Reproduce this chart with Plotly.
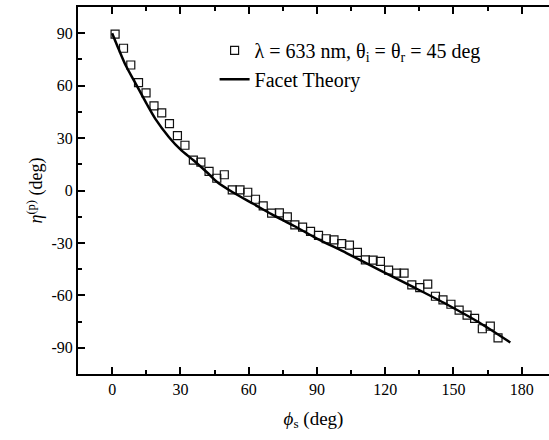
import plotly.graph_objects as go

# Measured data (phi_s in deg, eta^(p) in deg)
phi_meas = [1.3, 5.0, 8.2, 11.6, 14.9, 18.4, 21.8, 25.2, 28.7, 32.0,
            35.7, 39.0, 42.6, 46.0, 49.3, 52.8, 56.2, 59.6, 63.0, 66.4,
            70.1, 73.5, 77.0, 80.3, 83.7, 87.2, 90.7, 94.1, 97.5, 100.9,
            104.3, 107.8, 111.3, 114.7, 117.9, 121.5, 125.0, 128.3, 131.7, 135.2,
            138.7, 142.1, 145.4, 148.9, 152.5, 156.0, 159.3, 162.7, 166.2, 169.6]
eta_meas = [89.5, 81.4, 71.8, 61.7, 55.9, 48.4, 44.4, 38.3, 31.4, 25.9,
            17.4, 16.2, 11.0, 7.0, 9.0, 0.4, 0.4, -1.0, -5.0, -8.8,
            -13.0, -12.8, -15.1, -19.7, -20.9, -23.4, -25.7, -27.6, -28.3, -30.4,
            -31.2, -35.4, -39.7, -39.8, -40.6, -45.6, -47.3, -47.3, -54.0, -55.6,
            -53.6, -60.5, -62.6, -65.1, -68.4, -71.3, -73.2, -79.1, -77.6, -84.3]

# Facet theory curve
phi_theory = [0, 3, 6, 10, 15, 19, 25, 30, 36, 42, 46, 53, 62, 70, 80, 90,
              103, 118, 132, 147, 161.5, 175]
eta_theory = [90, 80.5, 71.5, 62, 50, 41, 30.5, 23.5, 17, 10, 5, -1, -7.6, -13.5,
              -20.3, -27.5, -35.8, -45.8, -55, -65.1, -75.7, -87]

x_ticks = [0, 30, 60, 90, 120, 150, 180]
x_ticklabels = ["0", "30", "60", "90", "120", "150", "180"]
y_ticks = [-90, -60, -30, 0, 30, 60, 90]
y_ticklabels = ["-90", "-60", "-30", "0", "30", "60", "90"]

font_family = "Liberation Serif"

fig = go.Figure()
fig.add_trace(go.Scatter(
    x=phi_meas, y=eta_meas, mode="markers",
    name="λ = 633 nm, θ<sub>i</sub> = θ<sub>r</sub> = 45 deg",
    marker=dict(symbol="square-open", size=8, color="#111111",
                line=dict(width=1.2, color="#111111")),
))
fig.add_trace(go.Scatter(
    x=phi_theory, y=eta_theory, mode="lines", name="Facet Theory",
    line=dict(color="black", width=2.5, shape="spline", smoothing=0.8),
))

axis_common = dict(
    showgrid=False, zeroline=False, automargin=False,
    showline=True, linecolor="black", linewidth=2,
    ticks="inside", ticklen=7, tickwidth=2, tickcolor="black",
    tickfont=dict(family=font_family, size=16, color="black"),
)

fig.update_xaxes(
    **axis_common,
    range=[-15, 192], tickvals=x_ticks, ticktext=x_ticklabels, mirror="ticks",
    minor=dict(ticks="inside", ticklen=4, tickwidth=2, tickcolor="black",
               dtick=15, tick0=0, showgrid=False),
    title=dict(text="<i>ϕ</i><sub>s</sub> (deg)",
               font=dict(family=font_family, size=19, color="black"), standoff=14),
)
fig.update_yaxes(
    **axis_common,
    range=[-105, 105], tickvals=y_ticks, ticktext=y_ticklabels, mirror=False,
    minor=dict(ticks="inside", ticklen=4, tickwidth=2, tickcolor="black",
               dtick=15, tick0=0, showgrid=False),
    title=dict(text="<i>η</i><sup>(p)</sup> (deg)",
               font=dict(family=font_family, size=18, color="black"), standoff=4),
)

fig.update_layout(
    width=549, height=440,
    margin=dict(l=78, r=0, t=7, b=66),
    plot_bgcolor="white", paper_bgcolor="white",
    font=dict(family=font_family, color="black"),
    legend=dict(x=0.29, y=0.935, xanchor="left", yanchor="top",
                bgcolor="rgba(0,0,0,0)",
                font=dict(family=font_family, size=20, color="black"),
                tracegroupgap=4),
)

fig.write_html(
    "out.html",
    config={"displayModeBar": False},
    post_script="document.body.style.margin='0';document.body.style.overflow='hidden';",
)
